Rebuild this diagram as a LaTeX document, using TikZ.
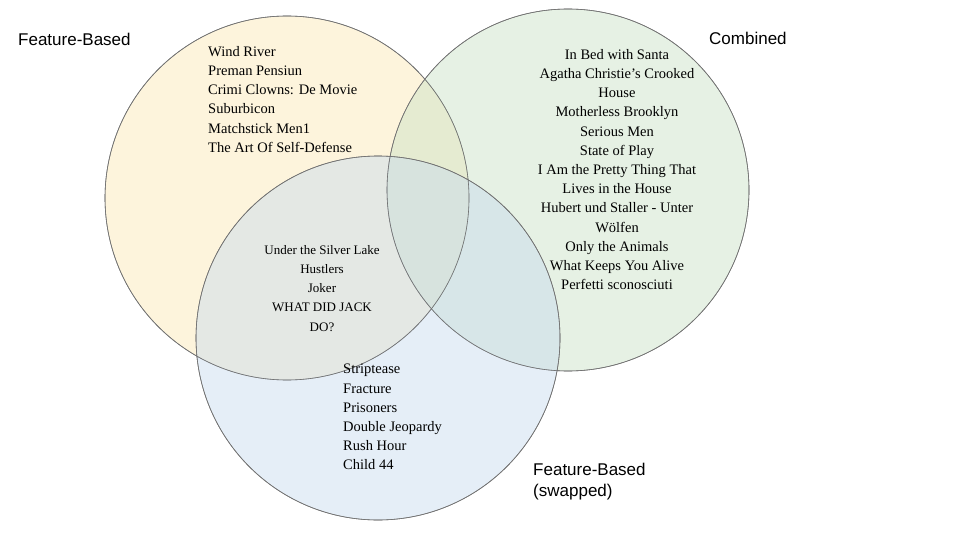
\documentclass[tikz,border=0pt]{standalone}
\usepackage{fontspec}
\setmainfont{Liberation Serif}
\newfontfamily\labfont{Liberation Sans}
\begin{document}
\begin{tikzpicture}[x=1pt,y=-1pt,
  circ/.style={draw=black!55,line width=0.6pt,fill opacity=0.45},
  lst/.style={font=\fontsize{14.5}{19.2}\selectfont,inner sep=0pt},
  lab/.style={font=\labfont\fontsize{17}{21}\selectfont,inner sep=0pt,anchor=north west,align=left}]
\useasboundingbox (0,0) rectangle (960,540);
\fill[white] (0,0) rectangle (960,540);
\path[circ,fill={rgb,255:red,252;green,232;blue,178}] (287,198) circle[radius=182];
\path[circ,fill={rgb,255:red,200;green,226;blue,196}] (568,190) circle[radius=181];
\path[circ,fill={rgb,255:red,198;green,218;blue,238}] (378,338) circle[radius=182];
\draw[black!55,line width=0.6pt] (287,198) circle[radius=182] (568,190) circle[radius=181] (378,338) circle[radius=182];
\node[lab] (l1) at (18,33) {Feature-Based};
\node[lab] (l2) at (709,32) {Combined};
\node[lab] (l3) at (533,463) {Feature-Based\\(swapped)};
\node[lst,anchor=north west,align=left] (t1) at (208,46) {Wind River\\Preman Pensiun\\Crimi Clowns: De Movie\\Suburbicon\\Matchstick Men1\\The Art Of Self-Defense};
\node[lst,anchor=north,align=center] (t2) at (617,49) {In Bed with Santa\\Agatha Christie’s Crooked\\House\\Motherless Brooklyn\\Serious Men\\State of Play\\I Am the Pretty Thing That\\Lives in the House\\Hubert und Staller - Unter\\Wölfen\\Only the Animals\\What Keeps You Alive\\Perfetti sconosciuti};
\node[lst,anchor=north,align=center,font=\fontsize{13}{19.2}\selectfont] (t3) at (322,245) {Under the Silver Lake\\Hustlers\\Joker\\WHAT DID JACK\\DO?};
\node[lst,anchor=north west,align=left] (t4) at (343,364) {Striptease\\Fracture\\Prisoners\\Double Jeopardy\\Rush Hour\\Child 44};
\end{tikzpicture}
\end{document}
